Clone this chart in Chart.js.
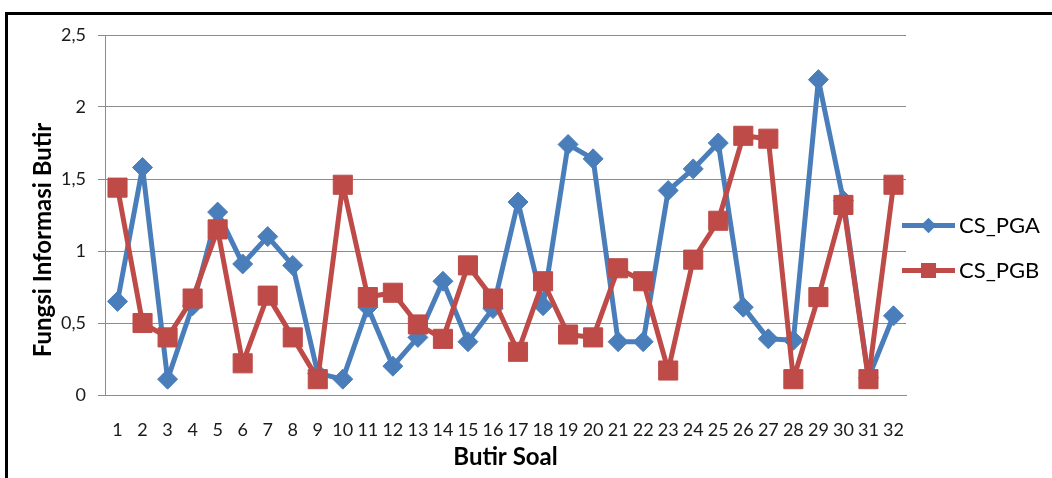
<!DOCTYPE html>
<html>
<head>
<meta charset="utf-8">
<script src="https://cdn.jsdelivr.net/npm/chart.js@4/dist/chart.umd.min.js"></script>
<style>
  html, body { margin: 0; padding: 0; background: #fff; overflow: hidden; }
  #wrap { position: relative; width: 1052px; height: 478px; }
  #frame {
    position: absolute; left: 5px; top: 12px; width: 1100px; height: 520px;
    border-left: 3px solid #000; border-top: 3px solid #000;
  }
  #chart { position: absolute; left: 0; top: 0; }
  .legend-item { position: absolute; left: 902px; height: 24px; font: 22px Lato, sans-serif; color: #000; }
  .legend-line { position: absolute; left: 0; top: 10px; width: 53px; height: 5px; }
  .legend-mark { position: absolute; }
  .legend-text { position: absolute; left: 57px; top: -2px; white-space: nowrap; }
</style>
</head>
<body>
<div id="wrap">
  <div id="frame"></div>
  <canvas id="chart" width="1052" height="478"></canvas>
  <div id="legend"></div>
</div>
<script>
// --- Data ---
const categories = ["1", "2", "3", "4", "5", "6", "7", "8", "9", "10", "11", "12", "13", "14", "15", "16",
  "17", "18", "19", "20", "21", "22", "23", "24", "25", "26", "27", "28", "29", "30", "31", "32"];
const pgaValues = [0.65, 1.58, 0.11, 0.62, 1.27, 0.91, 1.10, 0.90, 0.15, 0.11, 0.61, 0.20, 0.40, 0.79, 0.37, 0.60,
  1.34, 0.62, 1.74, 1.64, 0.37, 0.37, 1.42, 1.57, 1.75, 0.61, 0.39, 0.38, 2.19, 1.35, 0.12, 0.55];
const pgbValues = [1.44, 0.50, 0.40, 0.67, 1.15, 0.22, 0.69, 0.40, 0.11, 1.46, 0.68, 0.71, 0.49, 0.39, 0.90, 0.67,
  0.30, 0.79, 0.42, 0.40, 0.88, 0.79, 0.17, 0.94, 1.21, 1.80, 1.78, 0.11, 0.68, 1.32, 0.11, 1.46];
const seriesNames = ["CS_PGA", "CS_PGB"];
const xTitle = "Butir Soal";
const yTitle = "Fungsi Informasi Butir";

const BLUE = "#4a7ebb";
const RED = "#be4b48";
const GRID = "#8c8c8c";
const FONT = "Lato, 'Open Sans', sans-serif";

// --- Y title, drawn off-centre like the original ---
const yTitlePlugin = {
  id: "yTitle",
  afterDraw(chart) {
    const ctx = chart.ctx;
    ctx.save();
    ctx.translate(43, 240);
    ctx.rotate(-Math.PI / 2);
    ctx.font = "bold 24px " + FONT;
    ctx.fillStyle = "#000";
    ctx.textAlign = "center";
    ctx.textBaseline = "middle";
    ctx.fillText(yTitle, 0, 0);
    ctx.restore();
  }
};

// --- Chart ---
const chart = new Chart(document.getElementById("chart"), {
  type: "line",
  data: {
    labels: categories,
    datasets: [
      {
        label: seriesNames[0],
        data: pgaValues,
        order: 1,
        borderColor: BLUE,
        backgroundColor: BLUE,
        borderWidth: 5,
        borderJoinStyle: "round",
        pointStyle: "rectRot",
        pointRadius: 10,
        pointBorderWidth: 1,
        pointBackgroundColor: BLUE,
        pointBorderColor: BLUE
      },
      {
        label: seriesNames[1],
        data: pgbValues,
        order: 0,
        borderColor: RED,
        backgroundColor: RED,
        borderWidth: 5,
        borderJoinStyle: "round",
        pointStyle: "rect",
        pointRadius: 13.5,
        pointBorderWidth: 1,
        pointBackgroundColor: RED,
        pointBorderColor: RED
      }
    ]
  },
  options: {
    responsive: false,
    animation: false,
    layout: { padding: { top: 35, right: 146, left: 0, bottom: 0 } },
    plugins: {
      legend: { display: false },
      tooltip: { enabled: false }
    },
    scales: {
      x: {
        offset: true,
        grid: { display: false },
        border: { display: true, color: GRID, width: 1 },
        ticks: {
          autoSkip: false,
          maxRotation: 0,
          padding: 16,
          color: "#1a1a1a",
          font: { family: FONT, size: 18 }
        },
        title: {
          display: true,
          text: xTitle,
          color: "#000",
          font: { family: FONT, size: 24, weight: "bold" },
          padding: { top: 0, bottom: 6 }
        },
        afterFit(s) { s.height = 83; }
      },
      y: {
        min: 0,
        max: 2.5,
        grid: { color: GRID, lineWidth: 1, tickLength: 7 },
        border: { display: true, color: GRID, width: 1 },
        ticks: {
          stepSize: 0.5,
          padding: 12,
          color: "#1a1a1a",
          font: { family: FONT, size: 18 },
          callback: (v) => String(v).replace(".", ",")
        },
        afterFit(s) { s.width = 105; }
      }
    }
  },
  plugins: [yTitlePlugin]
});

// --- Legend ---
const legendEl = document.getElementById("legend");
[
  { name: seriesNames[0], color: BLUE, top: 213, diamond: true },
  { name: seriesNames[1], color: RED, top: 258, diamond: false }
].forEach((item) => {
  const row = document.createElement("div");
  row.className = "legend-item";
  row.style.top = item.top + "px";

  const line = document.createElement("div");
  line.className = "legend-line";
  line.style.background = item.color;

  const mark = document.createElement("div");
  mark.className = "legend-mark";
  mark.style.background = item.color;
  if (item.diamond) {
    mark.style.width = "11px";
    mark.style.height = "11px";
    mark.style.left = "21px";
    mark.style.top = "7px";
    mark.style.transform = "rotate(45deg)";
  } else {
    mark.style.width = "15px";
    mark.style.height = "15px";
    mark.style.left = "19px";
    mark.style.top = "5px";
  }

  const text = document.createElement("div");
  text.className = "legend-text";
  text.textContent = item.name;

  row.appendChild(line);
  row.appendChild(mark);
  row.appendChild(text);
  legendEl.appendChild(row);
});
</script>
</body>
</html>
